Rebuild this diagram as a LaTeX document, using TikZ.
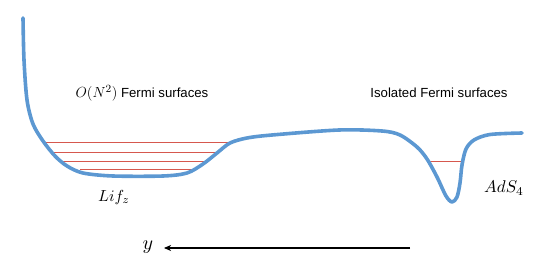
\documentclass[tikz,border=0pt]{standalone}
\usepackage{fontspec}
\setsansfont{Liberation Sans}
\usetikzlibrary{arrows.meta}
\definecolor{curveblue}{RGB}{92,152,210}
\definecolor{fermired}{RGB}{214,88,78}
\tikzset{
  potential/.style={curveblue, line width=3.6pt, line cap=round, line join=round},
  fermiline/.style={fermired, line width=0.9pt},
  label/.style={font=\sffamily\fontsize{13.2}{15}\selectfont, inner sep=0pt},
  mathlabel/.style={inner sep=0pt},
}
\begin{document}
\begin{tikzpicture}[x=1pt,y=-1pt]
\useasboundingbox (0,0) rectangle (544,278);
% Fermi levels
\draw[fermiline] (46,142.5) -- (231,142.5);
\draw[fermiline] (53,152) -- (215,152);
\draw[fermiline] (62,161) -- (204,161);
\draw[fermiline] (80,169.5) -- (191,169.5);
\draw[fermiline] (429,161) -- (463,161);
% potential curve
\draw[potential] plot[smooth, tension=0.5] coordinates {
 (23,18) (24,60) (27,100) (33,124) (43,141) (55,156) (67,166) (83,173)
 (113,176) (163,176) (187,173) (203,164) (217,153) (230,143) (247,138)
 (272,135) (339,130) (382,131) (400,135) (417,147) (427,159) (437,177)
 (446,196) (452,202) (457,197) (460,183) (462,165) (466,149) (474,140)
 (490,134.5) (522,133)};
% labels
\node[label] (onlabel) at (142,93) {\scalebox{1.22}{$O(N^2)$} Fermi surfaces};
\node[label] (isolabel) at (439,93) {Isolated Fermi surfaces};
\node[mathlabel] (lif) at (114,197) {\scalebox{1.6}{$Lif_z$}};
\node[mathlabel] (ads) at (504,188) {\scalebox{1.7}{$AdS_4$}};
\node[mathlabel] (ylab) at (148,247) {\scalebox{2}{$y$}};
\coordinate (astart) at (410,248);
\coordinate (aend) at (164,248);
\draw[line width=1.1pt, -{Stealth[length=7pt,width=6pt,inset=2pt]}] (astart) -- (aend);
\end{tikzpicture}
\end{document}
